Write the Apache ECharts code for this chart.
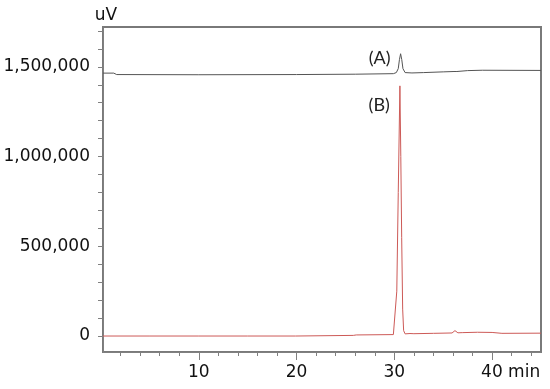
<!DOCTYPE html>
<html>
<head>
<meta charset="utf-8">
<script src="https://cdn.jsdelivr.net/npm/echarts@6/dist/echarts.min.js"></script>
<style>html,body{margin:0;padding:0;background:#fff}#c{width:550px;height:389px}</style>
</head>
<body>
<div id="c"></div>
<script>
// Trace (A): time (min) and signal (uV)
const timesA = [0.2, 1.3, 1.45, 1.6, 10, 20, 26, 29.9, 30.2, 30.4, 30.52, 30.64, 30.76, 30.88, 31.1, 31.8, 33, 35, 36.1, 36.25, 36.4, 37.5, 39, 45];
const valuesA = [1465000, 1465000, 1472000, 1457000, 1456000, 1457000, 1459000, 1462000, 1468000, 1490000, 1540000, 1573000, 1540000, 1490000, 1468000, 1466000, 1468000, 1472000, 1474000, 1480000, 1474000, 1479000, 1481000, 1480000];
// Trace (B)
const timesB = [0.2, 5, 10, 15, 19.9, 20.1, 25.8, 26.1, 29.9, 30.1, 30.25, 30.4, 30.57, 30.66, 30.75, 30.85, 30.95, 31.1, 31.6, 31.8, 32.0, 34, 35.9, 36.2, 36.5, 37, 38.5, 40, 41, 45];
const valuesB = [0, 0, 0, 0, 0, 2500, 3500, 6000, 8000, 12000, 250000, 800000, 1394000, 1000000, 550000, 150000, 30000, 12000, 14000, 18000, 13000, 15000, 17000, 30000, 18000, 19000, 21000, 20000, 15000, 16000];

const xMajorTicks = [10, 20, 30, 40];
const xMinorTicks = [2, 4, 6, 8, 12, 14, 16, 18, 22, 24, 26, 28, 32, 34, 36, 38, 42, 44];
const yTicks = [0, 100000, 200000, 300000, 400000, 500000, 600000, 700000, 800000, 900000, 1000000, 1100000, 1200000, 1300000, 1400000, 1500000, 1600000, 1700000];
const yLabels = [0, 500000, 1000000, 1500000];
const xUnit = 'min';
const yUnit = 'uV';
const labelA = '(A)', labelB = '(B)';
const labelAPos = [28.5, 1550000];
const labelBPos = [28.45, 1288000];

const pairsA = timesA.map((t, i) => [t, valuesA[i]]);
const pairsB = timesB.map((t, i) => [t, valuesB[i]]);

const font = 'DejaVu Sans';
const axisGray = '#808080';
const X_MIN = 0.2, X_MAX = 45, Y_MIN = -89000, Y_MAX = 1722000;
const chart = echarts.init(document.getElementById('c'), null, {renderer: 'canvas'});
chart.setOption({
  animation: false,
  backgroundColor: '#fff',
  grid: {left: 103, right: 9, top: 27, bottom: 37, show: true, borderColor: '#7a7a7a', borderWidth: 2},
  xAxis: [{
    type: 'value', min: X_MIN, max: X_MAX, position: 'bottom',
    axisLine: {show: true, onZero: false, lineStyle: {color: axisGray, width: 1}},
    axisTick: {show: true, customValues: xMinorTicks, length: 4, lineStyle: {color: axisGray}},
    axisLabel: {show: false},
    splitLine: {show: false}
  }, {
    type: 'value', min: X_MIN, max: X_MAX, position: 'bottom',
    axisLine: {show: false, onZero: false},
    axisTick: {show: true, customValues: xMajorTicks, length: 8, lineStyle: {color: axisGray}},
    axisLabel: {
      show: true, customValues: xMajorTicks, margin: 12,
      color: '#111', fontFamily: font, fontSize: 17,
      formatter: v => v === 40 ? '{u|' + v + ' ' + xUnit + '}' : String(v),
      rich: {u: {color: '#111', fontFamily: font, fontSize: 17, padding: [0, 0, 0, 37]}}
    },
    splitLine: {show: false}
  }, {
    type: 'value', min: X_MIN, max: X_MAX, position: 'top',
    axisLine: {show: true, onZero: false, lineStyle: {color: '#7a7a7a', width: 1.5}},
    axisTick: {show: false}, axisLabel: {show: false}, splitLine: {show: false}
  }],
  yAxis: [{
    type: 'value', min: Y_MIN, max: Y_MAX, position: 'left',
    name: yUnit, nameLocation: 'end', nameGap: 3,
    nameTextStyle: {color: '#111', fontFamily: font, fontSize: 17, align: 'center', padding: [0, 0, 0, 6]},
    axisLine: {show: true, onZero: false, lineStyle: {color: axisGray, width: 1}},
    axisTick: {show: true, customValues: yTicks, length: 5, lineStyle: {color: axisGray}},
    axisLabel: {
      show: true, customValues: yLabels, margin: 13,
      color: '#111', fontFamily: font, fontSize: 17,
      formatter: v => v.toLocaleString('en-US')
    },
    splitLine: {show: false}
  }, {
    type: 'value', min: Y_MIN, max: Y_MAX, position: 'right',
    axisLine: {show: true, onZero: false, lineStyle: {color: '#7a7a7a', width: 2}},
    axisTick: {show: false}, axisLabel: {show: false}, splitLine: {show: false}
  }],
  series: [{
    type: 'line', name: 'A', data: pairsA, showSymbol: false, symbol: 'none',
    lineStyle: {color: '#555555', width: 1}, z: 3,
    markPoint: {
      symbol: 'circle', symbolSize: 0, silent: true,
      label: {show: true, position: 'inside', color: '#222', fontFamily: 'Lato', fontSize: 18, formatter: p => p.name},
      data: [{name: labelA, coord: labelAPos}, {name: labelB, coord: labelBPos}]
    }
  }, {
    type: 'line', name: 'B', data: pairsB, showSymbol: false, symbol: 'none',
    lineStyle: {color: '#cd5a57', width: 1}, z: 2
  }]
});
</script>
</body>
</html>
